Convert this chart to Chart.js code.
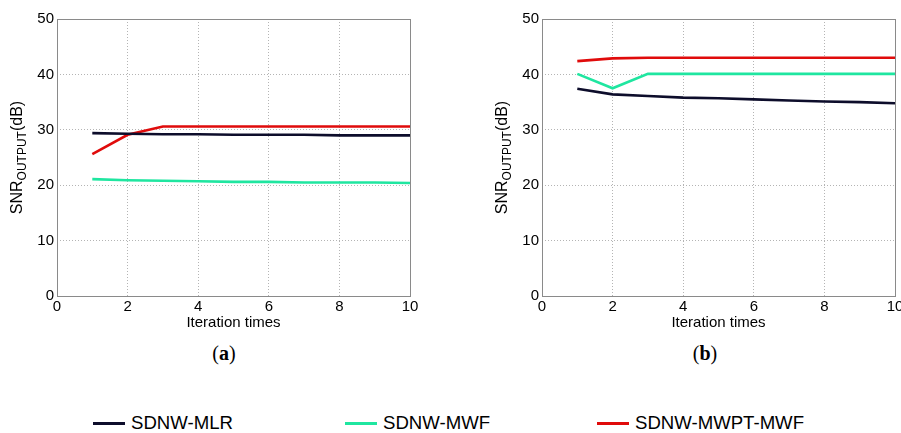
<!DOCTYPE html>
<html>
<head>
<meta charset="utf-8">
<script src="https://cdn.jsdelivr.net/npm/chart.js@4.4.1/dist/chart.umd.min.js"></script>
<style>
  html, body { margin:0; padding:0; background:#fff; width:901px; height:433px; overflow:hidden; position:relative; }
  .wrap { position:absolute; top:0; height:340px; }
  .sub { position:absolute; top:340px; width:60px; text-align:center; font-family:"Liberation Serif","DejaVu Serif",serif; font-size:20px; line-height:26px; color:#000; }
  .sub b { font-weight:bold; }
  .leg { position:absolute; top:411px; height:24px; display:flex; align-items:center; font-family:"Liberation Sans",Arial,sans-serif; font-size:18.6px; color:#000; white-space:nowrap; }
  .leg span.l { display:inline-block; width:32px; height:3px; margin-right:6px; }
</style>
</head>
<body>
<div class="wrap" style="left:0;width:450px;"><canvas id="ca" width="450" height="340"></canvas></div>
<div class="wrap" style="left:450px;width:470px;"><canvas id="cb" width="470" height="340"></canvas></div>
<div class="sub" style="left:194px;">(<b>a</b>)</div>
<div class="sub" style="left:675px;">(<b>b</b>)</div>
<div class="leg" style="left:93px;"><span class="l" style="background:#0d0d2b"></span>SDNW-MLR</div>
<div class="leg" style="left:345px;"><span class="l" style="background:#1fe6a0"></span>SDNW-MWF</div>
<div class="leg" style="left:597px;"><span class="l" style="background:#e00b0b"></span>SDNW-MWPT-MWF</div>
<script>
// ---- data ----
const iterations = [1, 2, 3, 4, 5, 6, 7, 8, 9, 10];
const seriesNames = ['SDNW-MLR', 'SDNW-MWF', 'SDNW-MWPT-MWF'];
const seriesColors = ['#0d0d2b', '#1fe6a0', '#e00b0b'];
const aMLR  = [29.4, 29.3, 29.2, 29.2, 29.1, 29.1, 29.1, 29.0, 29.0, 29.0];
const aMWF  = [21.1, 20.9, 20.8, 20.7, 20.6, 20.6, 20.5, 20.5, 20.5, 20.4];
const aMWPT = [25.6, 29.1, 30.6, 30.6, 30.6, 30.6, 30.6, 30.6, 30.6, 30.6];
const bMLR  = [37.4, 36.4, 36.1, 35.8, 35.7, 35.5, 35.3, 35.1, 35.0, 34.8];
const bMWF  = [40.1, 37.5, 40.1, 40.1, 40.1, 40.1, 40.1, 40.1, 40.1, 40.1];
const bMWPT = [42.4, 42.9, 43.0, 43.0, 43.0, 43.0, 43.0, 43.0, 43.0, 43.0];
const xTicks = [0, 2, 4, 6, 8, 10];
const yTicks = [0, 10, 20, 30, 40, 50];
const xTitle = 'Iteration times';
const yTitleMain = 'SNR', yTitleSub = 'OUTPUT', yTitleEnd = '(dB)';

const FONT = '"Liberation Sans", Arial, sans-serif';

const boxPlugin = {
  id: 'boxAndTitle',
  afterDraw(chart) {
    const {ctx, chartArea: a} = chart;
    ctx.save();
    ctx.strokeStyle = '#8a8a8a';
    ctx.lineWidth = 1;
    ctx.setLineDash([]);
    ctx.strokeRect(Math.round(a.left) + 0.5, Math.round(a.top) + 0.5, Math.round(a.right - a.left), Math.round(a.bottom - a.top));
    // y title with subscript
    const cx = a.left - 39, cy = (a.top + a.bottom) / 2;
    ctx.translate(cx, cy);
    ctx.rotate(-Math.PI / 2);
    ctx.fillStyle = '#000';
    ctx.textBaseline = 'middle';
    ctx.textAlign = 'left';
    const fMain = '16px ' + FONT, fSub = '12px ' + FONT;
    ctx.font = fMain; const w1 = ctx.measureText(yTitleMain).width; const w3 = ctx.measureText(yTitleEnd).width;
    ctx.font = fSub; const w2 = ctx.measureText(yTitleSub).width;
    let x0 = -(w1 + w2 + w3) / 2;
    ctx.font = fMain; ctx.fillText(yTitleMain, x0, 0);
    ctx.font = fSub; ctx.fillText(yTitleSub, x0 + w1, 5);
    ctx.font = fMain; ctx.fillText(yTitleEnd, x0 + w1 + w2, 0);
    ctx.restore();
  }
};

function makeChart(id, arrs, yWidth, padRight) {
  const datasets = arrs.map((vals, i) => ({
    label: seriesNames[i],
    data: iterations.map((x, j) => ({x: x, y: vals[j]})),
    borderColor: seriesColors[i],
    backgroundColor: seriesColors[i],
    borderWidth: 2.6,
    pointRadius: 0,
    tension: 0,
    fill: false
  }));
  return new Chart(document.getElementById(id), {
    type: 'line',
    data: { datasets },
    plugins: [boxPlugin],
    options: {
      responsive: false,
      animation: false,
      devicePixelRatio: 1,
      layout: { padding: { top: 19, right: padRight, left: 0, bottom: 0 } },
      plugins: { legend: { display: false }, tooltip: { enabled: false } },
      scales: {
        x: {
          type: 'linear', min: 0, max: 10,
          afterBuildTicks: s => { s.ticks = xTicks.map(v => ({value: v})); },
          afterFit: s => { s.height = 44; },
          ticks: { color: '#000', font: { family: FONT, size: 15 }, padding: 2, maxRotation: 0 },
          grid: { color: '#b4b4b4', drawTicks: false, lineWidth: 1 },
          border: { display: false, dash: [1, 2] },
          title: { display: true, text: xTitle, color: '#000', font: { family: FONT, size: 15 }, padding: { top: 0, bottom: 8 } }
        },
        y: {
          type: 'linear', min: 0, max: 50,
          afterBuildTicks: s => { s.ticks = yTicks.map(v => ({value: v})); },
          afterFit: s => { s.width = yWidth; },
          ticks: { color: '#000', font: { family: FONT, size: 15 }, padding: 3 },
          grid: { color: '#b4b4b4', drawTicks: false, lineWidth: 1 },
          border: { display: false, dash: [1, 2] }
        }
      }
    }
  });
}

makeChart('ca', [aMLR, aMWF, aMWPT], 57, 40);
makeChart('cb', [bMLR, bMWF, bMWPT], 92, 25);
</script>
</body>
</html>
